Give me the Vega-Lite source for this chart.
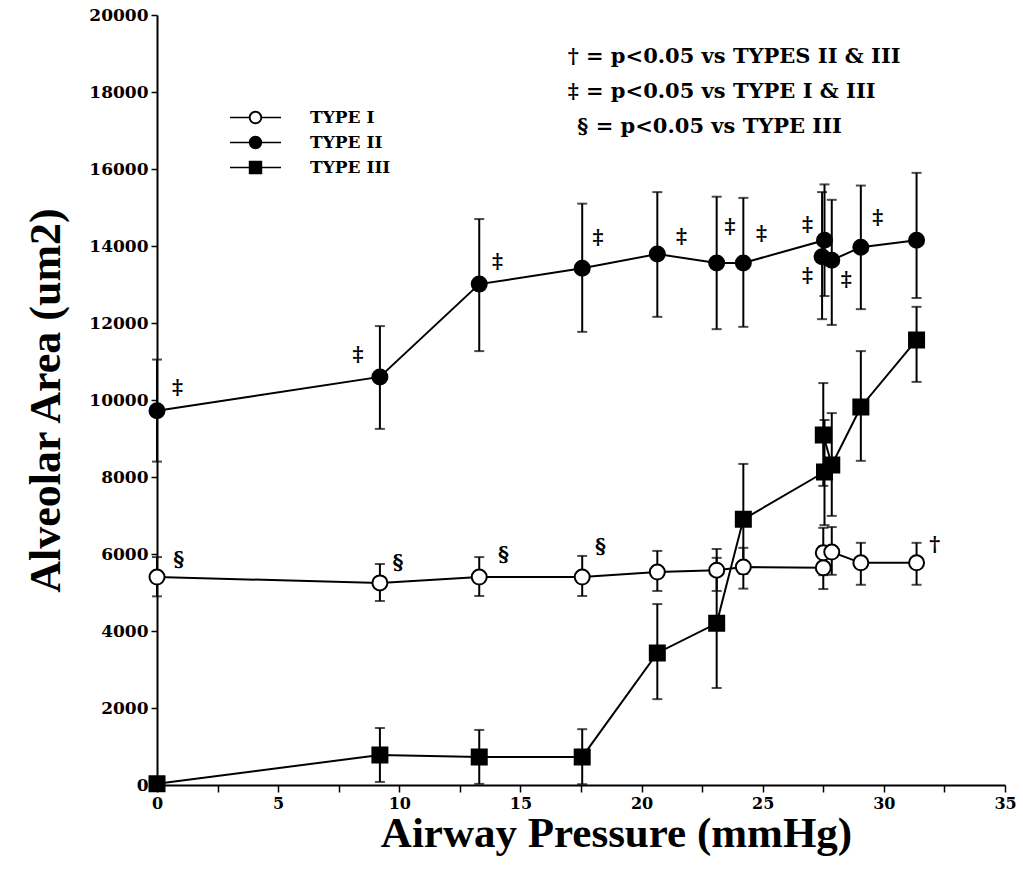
{
  "$schema": "https://vega.github.io/schema/vega-lite/v6.json",
  "width": 848,
  "height": 770,
  "autosize": "none",
  "padding": {"left": 157, "top": 15, "right": 18, "bottom": 84},
  "background": "white",
  "config": {
    "view": {"stroke": null},
    "axis": {
      "domainColor": "black", "domainWidth": 2, "tickColor": "black", "tickWidth": 1.5,
      "labelColor": "black", "titleColor": "black", "grid": false
    }
  },
  "resolve": {"scale": {"shape": "independent"}},
  "datasets": {
    "pts": [
      {"type": "TYPE I", "i": 1, "x": 0, "y": 5400, "lo": 4900, "hi": 5920},
      {"type": "TYPE I", "i": 2, "x": 9.2, "y": 5250, "lo": 4780, "hi": 5740},
      {"type": "TYPE I", "i": 3, "x": 13.3, "y": 5400, "lo": 4910, "hi": 5920},
      {"type": "TYPE I", "i": 4, "x": 17.55, "y": 5400, "lo": 4910, "hi": 5950},
      {"type": "TYPE I", "i": 5, "x": 20.65, "y": 5530, "lo": 5040, "hi": 6080},
      {"type": "TYPE I", "i": 6, "x": 23.1, "y": 5580, "lo": 5040, "hi": 6130},
      {"type": "TYPE I", "i": 7, "x": 24.2, "y": 5660, "lo": 5100, "hi": 6160},
      {"type": "TYPE I", "i": 8, "x": 27.5, "y": 5640, "lo": 5090, "hi": 6200},
      {"type": "TYPE I", "i": 9, "x": 27.5, "y": 6030, "lo": 5450, "hi": 6680},
      {"type": "TYPE I", "i": 10, "x": 27.85, "y": 6050, "lo": 5460, "hi": 6700},
      {"type": "TYPE I", "i": 11, "x": 29.05, "y": 5770, "lo": 5200, "hi": 6290},
      {"type": "TYPE I", "i": 12, "x": 31.35, "y": 5770, "lo": 5200, "hi": 6290},
      {"type": "TYPE II", "i": 1, "x": 0, "y": 9720, "lo": 8400, "hi": 11050},
      {"type": "TYPE II", "i": 2, "x": 9.2, "y": 10600, "lo": 9250, "hi": 11920},
      {"type": "TYPE II", "i": 3, "x": 13.3, "y": 13010, "lo": 11270, "hi": 14700},
      {"type": "TYPE II", "i": 4, "x": 17.55, "y": 13420, "lo": 11770, "hi": 15100},
      {"type": "TYPE II", "i": 5, "x": 20.65, "y": 13790, "lo": 12160, "hi": 15400},
      {"type": "TYPE II", "i": 6, "x": 23.1, "y": 13560, "lo": 11840, "hi": 15280},
      {"type": "TYPE II", "i": 7, "x": 24.2, "y": 13560, "lo": 11900, "hi": 15250},
      {"type": "TYPE II", "i": 8, "x": 27.55, "y": 14150, "lo": 12700, "hi": 15600},
      {"type": "TYPE II", "i": 9, "x": 27.45, "y": 13720, "lo": 12100, "hi": 15400},
      {"type": "TYPE II", "i": 10, "x": 27.85, "y": 13630, "lo": 11950, "hi": 15200},
      {"type": "TYPE II", "i": 11, "x": 29.05, "y": 13970, "lo": 12360, "hi": 15570},
      {"type": "TYPE II", "i": 12, "x": 31.35, "y": 14150, "lo": 12650, "hi": 15900},
      {"type": "TYPE III", "i": 1, "x": 0, "y": 30, "lo": 30, "hi": 30},
      {"type": "TYPE III", "i": 2, "x": 9.2, "y": 780, "lo": 80, "hi": 1480},
      {"type": "TYPE III", "i": 3, "x": 13.3, "y": 730, "lo": 30, "hi": 1430},
      {"type": "TYPE III", "i": 4, "x": 17.55, "y": 730, "lo": 20, "hi": 1450},
      {"type": "TYPE III", "i": 5, "x": 20.65, "y": 3430, "lo": 2230, "hi": 4700},
      {"type": "TYPE III", "i": 6, "x": 23.1, "y": 4200, "lo": 2520, "hi": 5900},
      {"type": "TYPE III", "i": 7, "x": 24.2, "y": 6900, "lo": 5480, "hi": 8340},
      {"type": "TYPE III", "i": 8, "x": 27.55, "y": 8130, "lo": 6750, "hi": 9480},
      {"type": "TYPE III", "i": 9, "x": 27.5, "y": 9090, "lo": 7770, "hi": 10440},
      {"type": "TYPE III", "i": 10, "x": 27.85, "y": 8310, "lo": 6990, "hi": 9660},
      {"type": "TYPE III", "i": 11, "x": 29.05, "y": 9820, "lo": 8420, "hi": 11270},
      {"type": "TYPE III", "i": 12, "x": 31.35, "y": 11560, "lo": 10470, "hi": 12420}
    ],
    "sig": [
      {"x": 0.85, "y": 10310, "label": "‡"},
      {"x": 8.3, "y": 11170, "label": "‡"},
      {"x": 14.05, "y": 13580, "label": "‡"},
      {"x": 18.2, "y": 14210, "label": "‡"},
      {"x": 21.65, "y": 14230, "label": "‡"},
      {"x": 23.65, "y": 14490, "label": "‡"},
      {"x": 24.95, "y": 14310, "label": "‡"},
      {"x": 26.85, "y": 14550, "label": "‡"},
      {"x": 26.85, "y": 13220, "label": "‡"},
      {"x": 28.45, "y": 13120, "label": "‡"},
      {"x": 29.75, "y": 14730, "label": "‡"},
      {"x": 0.9, "y": 5850, "label": "§"},
      {"x": 9.95, "y": 5770, "label": "§"},
      {"x": 14.3, "y": 5970, "label": "§"},
      {"x": 18.3, "y": 6180, "label": "§"},
      {"x": 32.1, "y": 6230, "label": "†"}
    ],
    "key": [
      {"x": 16.95, "y": 18900, "label": "† = p<0.05 vs TYPES II & III"},
      {"x": 16.95, "y": 18000, "label": "‡ = p<0.05 vs TYPE I & III"},
      {"x": 17.35, "y": 17090, "label": "§ = p<0.05 vs TYPE III"}
    ]
  },
  "layer": [
    {
      "data": {"name": "pts"},
      "mark": {"type": "rule", "color": "black", "strokeWidth": 2},
      "encoding": {
        "x": {"field": "x", "type": "quantitative", "scale": {"domain": [0, 35], "nice": false},
          "axis": {"values": [0, 2.5, 5, 7.5, 10, 12.5, 15, 17.5, 20, 22.5, 25, 27.5, 30, 32.5, 35],
            "labelExpr": "datum.value % 5 === 0 ? datum.label : ''",
            "tickSize": 7, "labelFont": "DejaVu Serif", "labelFontWeight": "bold", "labelFontSize": 16,
            "labelPadding": 3, "title": "Airway Pressure (mmHg)", "titleFont": "Liberation Serif",
            "titleFontWeight": "bold", "titleFontSize": 43, "titleX": 459, "titleY": 27, "titleBaseline": "top", "labelFlush": false}},
        "y": {"field": "lo", "type": "quantitative", "scale": {"domain": [0, 20000], "nice": false},
          "axis": {"values": [0, 1000, 2000, 3000, 4000, 5000, 6000, 7000, 8000, 9000, 10000, 11000, 12000, 13000, 14000, 15000, 16000, 17000, 18000, 19000, 20000],
            "labelExpr": "datum.value % 2000 === 0 ? datum.value : ''",
            "tickSize": 6, "labelFont": "DejaVu Serif", "labelFontWeight": "bold", "labelFontSize": 17,
            "labelPadding": 3, "title": "Alveolar Area (um2)", "titleFont": "Liberation Serif",
            "titleFontWeight": "bold", "titleFontSize": 44, "titlePadding": 20, "labelFlush": false}},
        "y2": {"field": "hi"}
      }
    },
    {
      "data": {"name": "pts"},
      "mark": {"type": "tick", "orient": "horizontal", "color": "black", "size": 10, "thickness": 2},
      "encoding": {
        "x": {"field": "x", "type": "quantitative"},
        "y": {"field": "lo", "type": "quantitative"}
      }
    },
    {
      "data": {"name": "pts"},
      "mark": {"type": "tick", "orient": "horizontal", "color": "black", "size": 10, "thickness": 2},
      "encoding": {
        "x": {"field": "x", "type": "quantitative"},
        "y": {"field": "hi", "type": "quantitative"}
      }
    },
    {
      "data": {"name": "pts"},
      "mark": {"type": "line", "color": "black", "strokeWidth": 2},
      "encoding": {
        "x": {"field": "x", "type": "quantitative"},
        "y": {"field": "y", "type": "quantitative"},
        "detail": {"field": "type"},
        "order": {"field": "i", "type": "quantitative"}
      }
    },
    {
      "data": {"name": "pts"},
      "mark": {"type": "point", "filled": false, "stroke": "black", "strokeWidth": 2, "size": 225, "opacity": 1},
      "encoding": {
        "x": {"field": "x", "type": "quantitative"},
        "y": {"field": "y", "type": "quantitative"},
        "shape": {"field": "type", "type": "nominal",
          "scale": {"domain": ["TYPE I", "TYPE II", "TYPE III"], "range": ["circle", "circle", "square"]},
          "legend": null},
        "fill": {"field": "type", "type": "nominal",
          "scale": {"domain": ["TYPE I", "TYPE II", "TYPE III"], "range": ["white", "black", "black"]},
          "legend": null}
      }
    },
    {
      "data": {"name": "pts"},
      "transform": [{"filter": "datum.i > 99"}],
      "mark": {"type": "point", "filled": true, "fill": "black", "opacity": 1},
      "encoding": {
        "x": {"field": "x", "type": "quantitative"},
        "y": {"field": "y", "type": "quantitative"},
        "shape": {"field": "type", "type": "nominal",
          "scale": {"domain": ["TYPE I", "TYPE II", "TYPE III"],
            "range": [
              "M-3.8,-0.13H-1V0.13H-3.8ZM1,-0.13H3.8V0.13H1ZM1,0A1,1,0,1,0,-1,0A1,1,0,1,0,1,0ZM0.72,0A0.72,0.72,0,1,1,-0.72,0A0.72,0.72,0,1,1,0.72,0Z",
              "M-3.8,-0.13H-1V0.13H-3.8ZM1,-0.13H3.8V0.13H1ZM1,0A1,1,0,1,1,-1,0A1,1,0,1,1,1,0Z",
              "M-3.8,-0.13H-1V0.13H-3.8ZM1,-0.13H3.8V0.13H1ZM-1,-1H1V1H-1Z"
            ]},
          "legend": {"title": null, "orient": "none", "legendX": 90, "legendY": 94, "padding": 0,
            "symbolSize": 180, "symbolFillColor": "black", "symbolStrokeWidth": 0,
            "symbolOpacity": 1, "labelOffset": 46, "rowPadding": 7,
            "labelFont": "DejaVu Serif", "labelFontWeight": "bold", "labelFontSize": 17, "labelColor": "black"}}
      }
    },
    {
      "data": {"name": "sig"},
      "mark": {"type": "text", "font": "DejaVu Serif", "fontWeight": "bold", "fontSize": 21, "color": "black", "align": "center", "baseline": "middle"},
      "encoding": {
        "x": {"field": "x", "type": "quantitative"},
        "y": {"field": "y", "type": "quantitative"},
        "text": {"field": "label"}
      }
    },
    {
      "data": {"name": "key"},
      "mark": {"type": "text", "font": "DejaVu Serif", "fontWeight": "bold", "fontSize": 21, "color": "black", "align": "left", "baseline": "middle"},
      "encoding": {
        "x": {"field": "x", "type": "quantitative"},
        "y": {"field": "y", "type": "quantitative"},
        "text": {"field": "label"}
      }
    }
  ]
}
